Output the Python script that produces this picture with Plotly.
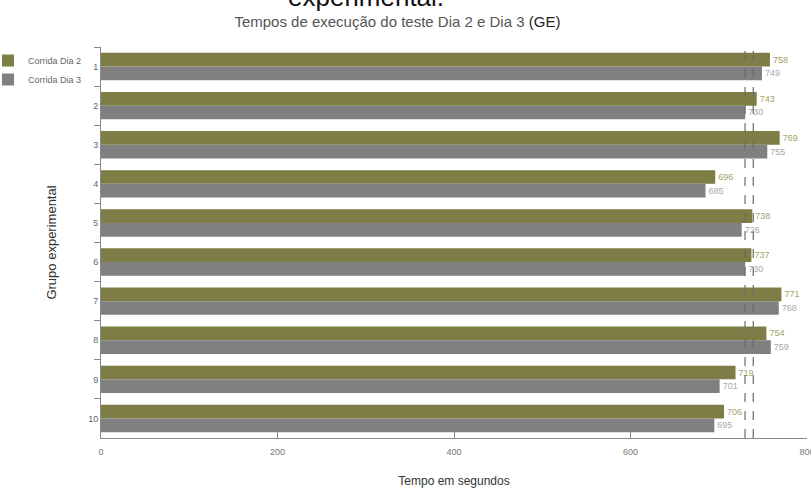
import plotly.graph_objects as go

groups = ["1", "2", "3", "4", "5", "6", "7", "8", "9", "10"]
dia2 = [758, 743, 769, 696, 738, 737, 771, 754, 719, 706]
dia3 = [749, 730, 755, 685, 726, 730, 768, 759, 701, 695]
series_names = ["Corrida Dia 2", "Corrida Dia 3"]
x_ticks = [0, 200, 400, 600, 800]

GREEN = "#7d7d45"
GREY = "#808080"
FONT = "Liberation Sans, Arial, sans-serif"

fig = go.Figure()
fig.add_trace(go.Bar(y=groups, x=dia2, orientation="h", name=series_names[0],
                     marker=dict(color=GREEN, line=dict(width=0)),
                     text=dia2, textposition="outside",
                     textfont=dict(size=9, color="#a3a36a", family=FONT),
                     cliponaxis=False))
fig.add_trace(go.Bar(y=groups, x=dia3, orientation="h", name=series_names[1],
                     marker=dict(color=GREY, line=dict(width=0)),
                     text=dia3, textposition="outside",
                     textfont=dict(size=9, color="#a8a8a8", family=FONT),
                     cliponaxis=False))

mean2 = sum(dia2) / len(dia2)
mean3 = sum(dia3) / len(dia3)
for m in (mean3, mean2):
    fig.add_shape(type="line", xref="x", yref="paper", x0=m, x1=m, y0=0, y1=1,
                  line=dict(color="#6a6a6a", width=1.2, dash="dash"))

fig.update_layout(
    width=811, height=488,
    margin=dict(l=101, r=4, t=47, b=50, autoexpand=False),
    paper_bgcolor="white", plot_bgcolor="white",
    barmode="group", bargap=0.3, bargroupgap=0,
    font=dict(family=FONT, color="#666"),
    title=dict(text="Tempos de execução do teste Dia 2 e Dia 3 <span style='color:#222'>(GE)</span>",
               x=0.49, xanchor="center", y=1 - 22 / 488, yanchor="middle",
               font=dict(size=15, color="#555", family=FONT)),
    showlegend=True,
    legend=dict(xref="paper", yref="paper", x=(-12 - 101) / 706, y=(438 - 46) / 391,
                xanchor="left", yanchor="top", font=dict(size=9, color="#666"),
                bgcolor="rgba(0,0,0,0)", traceorder="normal", tracegroupgap=0,
                itemwidth=30),
    xaxis=dict(range=[0, 800], tickvals=x_ticks, showgrid=False, zeroline=False,
               showline=True, linecolor="#888", linewidth=1,
               ticks="inside", ticklen=10, tickcolor="#888",
               tickfont=dict(size=9, color="#777"), ticklabelstandoff=5,
               ticklabeloverflow="allow",
               title=dict(text="Tempo em segundos", standoff=22,
                          font=dict(size=12, color="#333"))),
    yaxis=dict(type="category", categoryorder="array", categoryarray=groups,
               autorange="reversed", showgrid=False, zeroline=False,
               showline=True, linecolor="#888", linewidth=1,
               ticks="outside", tickson="boundaries", ticklen=6, tickcolor="#888",
               tickfont=dict(size=9, color="#666"),
               title=dict(text="Grupo experimental", standoff=28,
                          font=dict(size=13, color="#333"))),
    annotations=[dict(text="experimental.", xref="paper", yref="paper",
                      x=(366 - 101) / 706, y=(438 - 14) / 391,
                      xanchor="center", yanchor="bottom", showarrow=False,
                      font=dict(size=26, color="#111", family=FONT))],
)

fig.write_html("out.html", config={"displayModeBar": False},
               post_script="document.body.style.margin='0';")
